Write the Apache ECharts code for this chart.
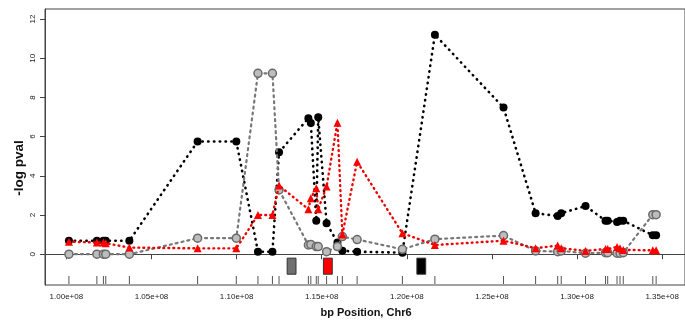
<!DOCTYPE html>
<html><head><meta charset="utf-8">
<script src="https://cdn.jsdelivr.net/npm/echarts@6/dist/echarts.min.js"></script>
<style>html,body{margin:0;padding:0;background:#fff}#c{width:685px;height:322px}</style>
</head><body><div id="c"></div>
<script>
// SNP positions (Mbp on Chr6)
const positions = [100.150,101.793,102.175,102.313,103.702,107.710,109.983,111.255,112.105,112.493,
  114.216,114.361,114.679,114.795,115.286,115.923,116.212,117.079,119.740,121.648,
  125.680,127.565,128.861,129.069,130.498,131.672,131.799,132.348,132.522,132.713,134.448,134.644];
const blackVals = [0.69,0.69,0.69,0.69,0.69,5.75,5.75,0.13,0.13,5.2,
  6.94,6.7,1.71,6.99,1.58,0.6,0.18,0.13,0.08,11.2,
  7.48,2.09,1.95,2.09,2.46,1.71,1.71,1.65,1.71,1.71,0.97,0.97];
const grayVals = [0.0,0.0,0.0,0.0,0.0,0.82,0.82,9.23,9.23,3.28,
  0.47,0.5,0.39,0.39,0.13,0.39,0.9,0.75,0.25,0.77,
  0.95,0.17,0.13,0.17,0.05,0.08,0.08,0.05,0.05,0.08,2.02,2.02];
const redVals = [0.64,0.6,0.6,0.56,0.34,0.3,0.3,2.0,2.0,3.5,
  2.3,2.86,3.37,2.3,3.45,6.71,1.0,4.72,1.07,0.47,
  0.69,0.31,0.44,0.31,0.17,0.27,0.27,0.37,0.31,0.22,0.2,0.2];
// gene boxes
const geneStart = [112.97,115.10,120.59];
const geneEnd = [113.49,115.62,121.11];
const geneTop = [-0.2,-0.2,-0.2];
const geneBottom = [-1.02,-1.02,-1.02];
// axes
const xTicks = [100,105,110,115,120,125,130,135];
const xTickLabels = ['1.00e+08','1.05e+08','1.10e+08','1.15e+08','1.20e+08','1.25e+08','1.30e+08','1.35e+08'];
const yTicks = [0,2,4,6,8,10,12];
const yTickLabels = ['0','2','4','6','8','10','12'];

const geneColors = ['#707070','#ff0000','#000000'];
const Y_MIN = -1.57, Y_MAX = 12.51, X_MIN = 98.745, X_MAX = 136.34;

const chart = echarts.init(document.getElementById('c'), null, {renderer:'canvas'});
const pts = v => positions.map((x,i)=>[x, v[i]]);
const font = 'Liberation Sans, Arial, sans-serif';

chart.setOption({
  animation:false,
  backgroundColor:'#fff',
  grid:{left:45, top:9, right:-10, bottom:37, show:true, borderColor:'#444', borderWidth:1, backgroundColor:'transparent'},
  xAxis:{type:'value', min:X_MIN, max:X_MAX, splitLine:{show:false},
    axisLine:{show:true, lineStyle:{color:'#444'}},
    axisTick:{show:true, customValues:xTicks, length:5, lineStyle:{color:'#444'}},
    axisLabel:{customValues:xTicks, margin:8, fontSize:8, color:'#222', fontFamily:font,
      formatter:v=>xTickLabels[xTicks.indexOf(Math.round(v))]}},
  yAxis:{type:'value', min:Y_MIN, max:Y_MAX, splitLine:{show:false},
    axisLine:{show:true, lineStyle:{color:'#444'}},
    axisTick:{show:true, customValues:yTicks, length:5, lineStyle:{color:'#444'}},
    axisLabel:{customValues:yTicks, rotate:90, margin:8, fontSize:8, color:'#222', fontFamily:font,
      formatter:v=>yTickLabels[yTicks.indexOf(Math.round(v))]}},
  graphic:[
    {type:'text', x:19, y:168, rotation:Math.PI/2, style:{text:'-log pval', fontSize:13.5, fontWeight:'bold', fontFamily:font, fill:'#111', align:'center', verticalAlign:'middle'}},
    {type:'text', x:366, y:313, style:{text:'bp Position, Chr6', fontSize:11, fontWeight:'bold', fontFamily:font, fill:'#111', align:'center', verticalAlign:'middle'}}
  ],
  series:[
    {type:'custom', silent:true, data:positions.map(x=>[x]),
      renderItem:(p,api)=>{const b=api.coord([api.value(0), Y_MIN]);
        return {type:'line', shape:{x1:b[0],y1:b[1]-1,x2:b[0],y2:b[1]-9}, style:{stroke:'#555', lineWidth:1}};}},
    {type:'custom', silent:true, data:geneStart.map((s,i)=>[s, geneEnd[i], geneTop[i], geneBottom[i], i]),
      renderItem:(p,api)=>{const a=api.coord([api.value(0), api.value(2)]); const b=api.coord([api.value(1), api.value(3)]);
        return {type:'rect', shape:{x:a[0], y:a[1], width:b[0]-a[0], height:b[1]-a[1]},
          style:{fill:geneColors[api.value(4)], stroke:'#333', lineWidth:1}};}},
    {type:'line', data:pts(blackVals), symbol:'circle', symbolSize:8,
      itemStyle:{color:'#000'}, lineStyle:{color:'#000', width:2.6, type:[0.4,5.4], cap:'round'}, z:3},
    {type:'line', data:pts(grayVals), symbol:'circle', symbolSize:8,
      itemStyle:{color:'#bdbdbd', borderColor:'#6a6a6a', borderWidth:1.5}, lineStyle:{color:'#777', width:2.2, type:[2,4], cap:'round'}, z:4},
    {type:'line', data:pts(redVals), symbol:'triangle', symbolSize:8,
      itemStyle:{color:'#ff0000'}, lineStyle:{color:'#ee0000', width:2.4, type:[0.8,4.2], cap:'round'}, z:5}
  ]
});
</script></body></html>
